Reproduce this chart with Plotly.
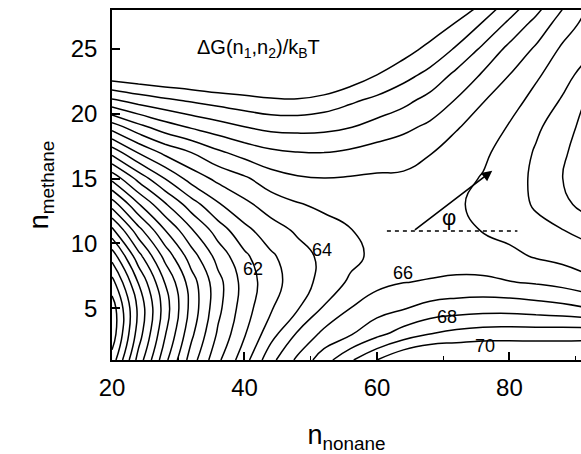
import plotly.graph_objects as go

# ---- data: free-energy surface dG/kT ----
n_nonane = [20, 24, 28, 32, 36, 40, 44, 48, 52, 56, 60, 64, 68, 72, 76, 80, 84, 88, 92]
n_methane = [1, 3, 5, 7, 9, 11, 13, 15, 17, 19, 21, 23, 25, 27, 29]

dG_m01 = [48.4, 52.4, 55.7, 58.5, 60.8, 62.6, 64.7, 66.2, 67.57, 68.86, 70.0, 71.0, 71.5, 71.4, 71.4, 71.3, 71.2, 71.1, 71.0]
dG_m03 = [47.39, 51.51, 54.91, 57.79, 60.15, 61.91, 63.62, 65.12, 66.26, 66.91, 67.73, 68.44, 69.0, 69.31, 69.5, 69.54, 69.56, 69.6, 69.67]
dG_m05 = [47.43, 51.24, 54.5, 57.36, 59.73, 61.55, 62.9, 63.91, 65.1, 66.0, 66.56, 66.92, 67.34, 67.51, 67.6, 67.61, 67.47, 67.29, 67.0]
dG_m07 = [48.64, 52.06, 55.04, 57.54, 59.66, 61.4, 62.61, 63.5, 64.35, 65.17, 65.73, 65.98, 66.06, 66.19, 66.19, 66.04, 65.89, 65.66, 65.22]
dG_m09 = [50.4, 53.62, 56.32, 58.53, 60.38, 61.79, 62.84, 63.61, 64.23, 64.71, 65.28, 65.65, 65.64, 65.53, 65.47, 65.23, 64.92, 64.69, 64.44]
dG_m11 = [52.69, 55.63, 57.97, 59.88, 61.47, 62.72, 63.56, 64.15, 64.59, 64.97, 65.24, 65.5, 65.42, 65.15, 64.97, 64.72, 64.3, 64.03, 63.63]
dG_m13 = [55.43, 57.91, 59.87, 61.54, 62.88, 63.76, 64.47, 64.92, 65.21, 65.45, 65.47, 65.61, 65.46, 65.05, 64.9, 64.46, 63.88, 63.25, 62.61]
dG_m15 = [58.29, 60.33, 62.02, 63.42, 64.26, 64.84, 65.56, 65.88, 65.98, 65.92, 65.84, 65.84, 65.69, 65.26, 64.94, 64.43, 63.81, 63.01, 62.2]
dG_m17 = [61.33, 63.07, 64.25, 65.0, 65.81, 66.38, 66.8, 66.97, 67.0, 66.83, 66.58, 66.4, 66.04, 65.6, 65.17, 64.61, 63.9, 63.18, 62.3]
dG_m19 = [64.5, 65.71, 66.56, 67.14, 67.59, 68.0, 68.29, 68.34, 68.27, 68.05, 67.64, 67.25, 66.81, 66.08, 65.6, 64.92, 64.17, 63.49, 62.53]
dG_m21 = [67.8, 68.38, 68.78, 69.1, 69.39, 69.63, 69.83, 69.86, 69.59, 69.15, 68.74, 68.27, 67.65, 66.92, 66.04, 65.44, 64.64, 63.9, 62.85]
dG_m23 = [70.7, 70.9, 71.07, 71.2, 71.37, 71.4, 71.4, 71.7, 71.4, 70.7, 70.0, 69.35, 68.71, 67.75, 66.88, 66.0, 65.17, 64.37, 63.55]
dG_m25 = [73.5, 73.4, 73.4, 73.3, 73.3, 73.2, 73.0, 73.5, 73.2, 72.3, 71.3, 70.45, 69.71, 68.88, 67.81, 66.74, 65.86, 64.84, 64.22]
dG_m27 = [76.3, 75.9, 75.7, 75.4, 75.2, 75.0, 74.6, 75.2, 74.9, 73.9, 72.6, 71.5, 70.7, 69.95, 68.94, 67.81, 66.7, 65.55, 64.65]
dG_m29 = [79.0, 78.4, 78.0, 77.5, 77.1, 76.8, 76.2, 76.8, 76.6, 75.5, 73.9, 72.6, 71.7, 71.0, 70.27, 69.0, 67.81, 66.4, 65.1]

dG = [dG_m01, dG_m03, dG_m05, dG_m07, dG_m09, dG_m11, dG_m13, dG_m15,
      dG_m17, dG_m19, dG_m21, dG_m23, dG_m25, dG_m27, dG_m29]

level_start, level_end, level_step = 45, 70, 1
label_values = [62, 64, 66, 68, 70]
x_tick_values = [20, 40, 60, 80]
x_minor_values = [30, 50, 70, 90]
y_tick_values = [5, 10, 15, 20, 25]

# ---- annotation placement (data coordinates) ----
label_x = [41.3, 51.7, 64.0, 70.6, 76.3]
label_y = [8.0, 9.5, 7.7, 4.3, 2.1]
saddle_line = dict(x0=61.5, x1=81.2, y=10.95)
arrow_tail = (65.5, 10.95)
arrow_head = (77.4, 15.6)
phi_pos = (70.8, 12.0)
title_pos = (42.1, 25.0)

FONT = "Liberation Sans, Arial, Helvetica, sans-serif"

fig = go.Figure()
fig.add_trace(go.Contour(
    x=n_nonane, y=n_methane, z=dG,
    contours=dict(coloring="lines", start=level_start, end=level_end,
                  size=level_step, showlabels=False),
    line=dict(width=1.5, smoothing=1.3),
    colorscale=[[0, "black"], [1, "black"]],
    showscale=False, hoverinfo="skip",
))

for v, lx, ly in zip(label_values, label_x, label_y):
    fig.add_annotation(x=lx, y=ly, xref="x", yref="y", text=str(v),
                       showarrow=False,
                       font=dict(family=FONT, size=18, color="black"))

fig.add_shape(type="line", xref="x", yref="y",
              x0=saddle_line["x0"], x1=saddle_line["x1"],
              y0=saddle_line["y"], y1=saddle_line["y"],
              line=dict(color="black", width=1.6, dash="4px,4px"))

fig.add_annotation(x=arrow_head[0], y=arrow_head[1], ax=arrow_tail[0], ay=arrow_tail[1],
                   xref="x", yref="y", axref="x", ayref="y", text="",
                   showarrow=True, arrowhead=2, arrowsize=1.3, arrowwidth=1.6,
                   arrowcolor="black", standoff=0, startstandoff=0)

fig.add_annotation(x=phi_pos[0], y=phi_pos[1], xref="x", yref="y", text="φ",
                   showarrow=False, font=dict(family=FONT, size=22, color="black"))

fig.add_annotation(x=title_pos[0], y=title_pos[1], xref="x", yref="y",
                   text="ΔG(n<sub>1</sub>,n<sub>2</sub>)/k<sub>B</sub>T",
                   showarrow=False, font=dict(family=FONT, size=20, color="black"))

fig.update_layout(
    width=581, height=454,
    margin=dict(l=112, r=0, t=10, b=94),
    paper_bgcolor="white", plot_bgcolor="white",
    showlegend=False,
    font=dict(family=FONT, color="black"),
    xaxis=dict(range=[20, 90.8], tickvals=x_tick_values, ticks="inside", ticklen=8,
               tickwidth=1.5, tickcolor="black",
               minor=dict(tickvals=x_minor_values, ticks="inside", ticklen=4,
                          tickwidth=1.2, tickcolor="black", showgrid=False),
               showline=True, linecolor="black", linewidth=1.6, mirror=True,
               showgrid=False, zeroline=False,
               tickfont=dict(family=FONT, size=24, color="black"),
               ticklabelstandoff=5,
               title=dict(text="n<sub>nonane</sub>", standoff=28,
                          font=dict(family=FONT, size=27, color="black"))),
    yaxis=dict(range=[1, 28], tickvals=y_tick_values, ticks="inside", ticklen=8,
               tickwidth=1.5, tickcolor="black",
               showline=True, linecolor="black", linewidth=1.6,
               showgrid=False, zeroline=False,
               tickfont=dict(family=FONT, size=24, color="black"),
               ticklabelstandoff=8,
               title=dict(text="n<sub>methane</sub>", standoff=14,
                          font=dict(family=FONT, size=27, color="black"))),
)

fig.write_html("out.html")
